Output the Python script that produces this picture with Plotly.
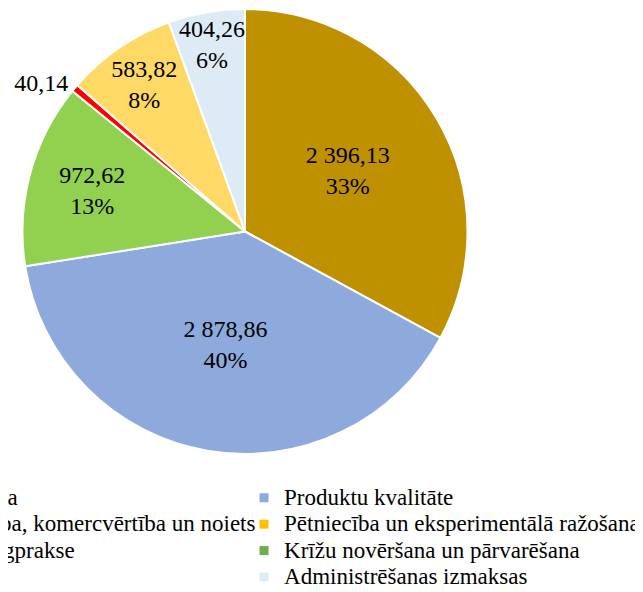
import plotly.graph_objects as go

# pie slices, clockwise from 12 o'clock
slice_labels = ["Ražošanas plānošana", "Produktu kvalitāte", "Krīžu novēršana un pārvarēšana",
                "Apmācība un paraugprakse", "Pētniecība un eksperimentālā ražošana",
                "Administrēšanas izmaksas"]
slice_values = [2396.13, 2878.86, 972.62, 40.14, 583.82, 404.26]
slice_colors = ["#BF9000", "#8EA9DB", "#92D050", "#FF0000", "#FFD966", "#DDEBF7"]

# legend, two columns (the left one runs off the edge of the picture)
legend_left = ["Ražošanas plānošana", "Produktu tirdzniecība, komercvērtība un noiets",
               "Apmācība un paraugprakse", "Vides pasākumi"]
legend_left_colors = ["#BF9000", "#4472C4", "#FF0000", "#A5A5A5"]
legend_right = ["Produktu kvalitāte", "Pētniecība un eksperimentālā ražošana",
                "Krīžu novēršana un pārvarēšana", "Administrēšanas izmaksas"]
legend_right_colors = ["#8EA9DB", "#FFC000", "#70AD47", "#DDEBF7"]

FONT = "Liberation Serif, Times New Roman, serif"

# the tiny slice gets its value outside, without percent
templates = ["%{value:,.2f}<br>%{percent:.0%}"] * len(slice_values)
positions = ["inside"] * len(slice_values)
small = slice_values.index(min(slice_values))
templates[small] = "%{value:,.2f}"
positions[small] = "outside"

fig = go.Figure()
fig.add_trace(go.Pie(
    labels=slice_labels,
    values=slice_values,
    marker=dict(colors=slice_colors, line=dict(color="white", width=2)),
    sort=False,
    direction="clockwise",
    texttemplate=templates,
    textposition=positions,
    insidetextorientation="horizontal",
    textfont=dict(family=FONT, size=24, color="black"),
    showlegend=False,
    domain=dict(x=[0.0228, 0.7236], y=[0.2363, 0.9983]),
))

for names, colors, leg in [(legend_left, legend_left_colors, "legend"),
                           (legend_right, legend_right_colors, "legend2")]:
    for name, color in zip(names, colors):
        fig.add_trace(go.Scatter(
            x=[None], y=[None], mode="markers", name="<span style='font-size:23px'>%s</span>" % name,
            marker=dict(symbol="square", size=9, color=color),
            legend=leg,
        ))

legend_style = dict(
    orientation="v",
    xanchor="left", yanchor="top",
    y=0.1925,
    bgcolor="rgba(0,0,0,0)",
    font=dict(family=FONT, size=18, color="black"),
)

fig.update_layout(
    width=635, height=584,
    margin=dict(l=0, r=0, t=0, b=0, autoexpand=False),
    paper_bgcolor="white",
    plot_bgcolor="white",
    separators=", ",
    uniformtext=dict(minsize=24, mode="show"),
    font=dict(family=FONT, color="black"),
    xaxis=dict(visible=False),
    yaxis=dict(visible=False),
    legend=dict(x=-0.3543, **legend_style),
    legend2=dict(x=0.3717, **legend_style),
)

fig.write_html("out.html")
